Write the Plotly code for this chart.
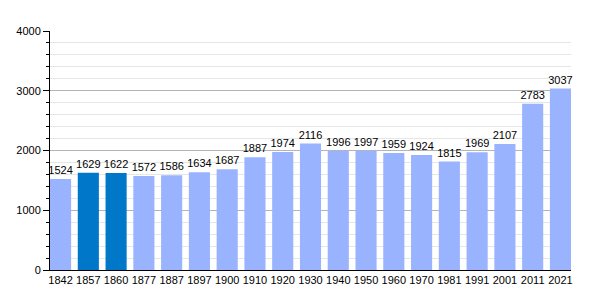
import plotly.graph_objects as go

years = ["1842", "1857", "1860", "1877", "1887", "1897", "1900", "1910", "1920", "1930",
         "1940", "1950", "1960", "1970", "1981", "1991", "2001", "2011", "2021"]
population = [1524, 1629, 1622, 1572, 1586, 1634, 1687, 1887, 1974, 2116,
              1996, 1997, 1959, 1924, 1815, 1969, 2107, 2783, 3037]
highlight = ["1857", "1860"]

light = "#99b3ff"
dark = "#0077c8"
colors = [dark if y in highlight else light for y in years]

fig = go.Figure(go.Bar(
    x=years, y=population, marker_color=colors, marker_line_width=0,
    text=[str(v) for v in population], textposition="outside", cliponaxis=False,
    constraintext="none",
    textfont=dict(family="Liberation Sans, Arial", size=11, color="black"),
))

fig.update_layout(
    width=600, height=300,
    margin=dict(l=50, r=29, t=31, b=30),
    plot_bgcolor="white", paper_bgcolor="white",
    bargap=0.24, showlegend=False,
    font=dict(family="Liberation Sans, Arial", size=11, color="black"),
)
fig.update_xaxes(
    type="category", showgrid=False, showline=True, linecolor="black", linewidth=1,
    ticks="", tickfont=dict(size=11), range=[-0.38, 18.38],
)
fig.update_yaxes(
    range=[0, 4000], tickvals=[0, 1000, 2000, 3000, 4000],
    showline=True, linecolor="black", linewidth=1,
    ticks="outside", ticklen=6, tickcolor="black",
    showgrid=True, gridcolor="#b4b4b4", gridwidth=1,
    minor=dict(dtick=200, showgrid=True, gridcolor="#e6e6e6", ticks="outside",
               ticklen=3, tickcolor="black"),
    zeroline=False, tickfont=dict(size=11),
)

fig.write_html("out.html")
